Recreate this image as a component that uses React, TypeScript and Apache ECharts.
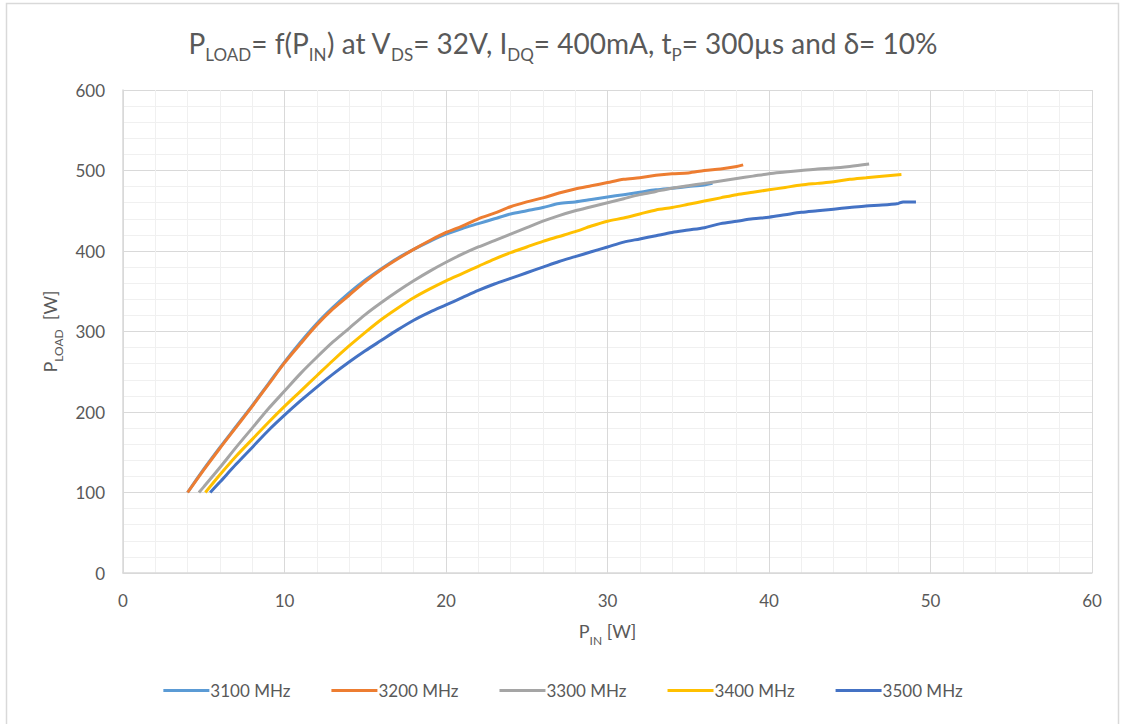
import React, { useEffect, useRef } from "react";
import * as echarts from "echarts";

const seriesNames = ["3100 MHz", "3200 MHz", "3300 MHz", "3400 MHz", "3500 MHz"];
const seriesColors = ["#5B9BD5", "#ED7D31", "#A5A5A5", "#FFC000", "#4472C4"];

const pin3100 = [4.0, 5, 6, 7, 8, 9, 10, 11, 12, 13, 14, 15, 16, 17, 18, 19, 20, 21, 22, 23, 24, 25, 26, 27, 28, 29, 30, 31, 32, 33, 34, 35, 36, 36.5];
const pload3100 = [100, 129, 156, 182, 208, 235, 262, 287, 310, 330, 348, 364, 378, 391, 402, 412, 421, 428, 434, 440, 446, 450, 454, 459, 461, 464, 467, 470, 473, 476, 478, 480, 482, 484];

const pin3200 = [4.0, 5, 6, 7, 8, 9, 10, 11, 12, 13, 14, 15, 16, 17, 18, 19, 20, 21, 22, 23, 24, 25, 26, 27, 28, 29, 30, 31, 32, 33, 34, 35, 36, 37, 38, 38.4];
const pload3200 = [100, 128, 155, 181, 207, 234, 261, 285, 308, 328, 345, 362, 377, 390, 402, 413, 423, 431, 440, 447, 455, 461, 466, 472, 477, 481, 485, 489, 491, 494, 496, 497, 500, 502, 505, 507];

const pin3300 = [4.7, 5, 6, 7, 8, 9, 10, 11, 12, 13, 14, 15, 16, 17, 18, 19, 20, 21, 22, 23, 24, 25, 26, 27, 28, 29, 30, 31, 32, 33, 34, 35, 36, 37, 38, 39, 40, 41, 42, 43, 44, 45, 46.2];
const pload3300 = [100, 107, 131, 156, 180, 204, 226, 248, 268, 287, 304, 321, 336, 350, 363, 375, 386, 396, 405, 413, 421, 429, 437, 444, 450, 455, 460, 465, 470, 474, 478, 481, 484, 487, 490, 493, 496, 498, 500, 502, 503, 505, 508];

const pin3400 = [5.1, 6, 7, 8, 9, 10, 11, 12, 13, 14, 15, 16, 17, 18, 19, 20, 21, 22, 23, 24, 25, 26, 27, 28, 29, 30, 31, 32, 33, 34, 35, 36, 37, 38, 39, 40, 41, 42, 43, 44, 45, 46, 47, 48.2];
const pload3400 = [100, 122, 145, 166, 187, 207, 226, 245, 264, 282, 299, 315, 329, 342, 353, 363, 372, 381, 390, 398, 405, 412, 418, 424, 431, 437, 441, 446, 451, 454, 458, 462, 466, 470, 473, 476, 479, 482, 484, 486, 489, 491, 493, 495];

const pin3500 = [5.4, 6, 7, 8, 9, 10, 11, 12, 13, 14, 15, 16, 17, 18, 19, 20, 21, 22, 23, 24, 25, 26, 27, 28, 29, 30, 31, 32, 33, 34, 35, 36, 37, 38, 39, 40, 41, 42, 43, 44, 45, 46, 47, 48, 48.3, 49.1];
const pload3500 = [100, 113, 135, 156, 177, 196, 214, 231, 247, 262, 276, 289, 302, 314, 324, 333, 342, 351, 359, 366, 373, 380, 387, 393, 399, 405, 411, 415, 419, 423, 426, 429, 434, 437, 440, 442, 445, 448, 450, 452, 454, 456, 457, 459, 461, 461];

const pinSets = [pin3100, pin3200, pin3300, pin3400, pin3500];
const ploadSets = [pload3100, pload3200, pload3300, pload3400, pload3500];

const FONT = "Lato, 'Open Sans', sans-serif";
const TXT = "#595959";

export default function App() {
  const ref = useRef<HTMLDivElement>(null);
  useEffect(() => {
    if (!ref.current) return;
    const chart = echarts.init(ref.current, null, { renderer: "svg" });
    const series = seriesNames.map((name, i) => ({
      name,
      type: "line",
      data: pinSets[i].map((x, j) => [x, ploadSets[i][j]]),
      showSymbol: false,
      smooth: 0.3,
      lineStyle: { width: 3, color: seriesColors[i] },
      itemStyle: { color: seriesColors[i] },
    }));
    const subRich = {
      n: { fontSize: 28, fontWeight: "normal", color: TXT, fontFamily: FONT, lineHeight: 32, verticalAlign: "top" },
      s: { fontSize: 17, fontWeight: "normal", color: TXT, fontFamily: FONT, lineHeight: 17, verticalAlign: "top", padding: [17, 0, 0, 0] },
    };
    const axisRich = {
      n: { fontSize: 18, color: TXT, fontFamily: FONT, lineHeight: 22, verticalAlign: "top" },
      s: { fontSize: 12, color: TXT, fontFamily: FONT, lineHeight: 12, verticalAlign: "top", padding: [12, 0, 0, 0] },
    };
    chart.setOption({
      animation: false,
      backgroundColor: "#ffffff",
      title: {
        text: "{n|P}{s|LOAD}{n|= f(P}{s|IN}{n|) at V}{s|DS}{n|= 32V, I}{s|DQ}{n|= 400mA, t}{s|P}{n|= 300µs and δ= 10%}",
        left: "center",
        top: 24,
        textStyle: { rich: subRich, fontFamily: FONT, fontWeight: "normal" },
      },
      graphic: [
        {
          type: "rect",
          shape: { x: 6.5, y: 3.5, width: 1112, height: 740 },
          style: { fill: "none", stroke: "#d9d9d9", lineWidth: 1.5 },
          silent: true,
        },
      ],
      grid: { left: 123, right: 34, top: 90, bottom: 151, containLabel: false },
      legend: {
        bottom: 20,
        left: "center",
        icon: "rect",
        itemWidth: 46,
        itemHeight: 3,
        itemGap: 41,
        textStyle: { color: TXT, fontSize: 17, fontFamily: FONT, padding: [0, 0, 0, -4] },
        data: seriesNames,
      },
      xAxis: {
        type: "value",
        min: 0,
        max: 60,
        interval: 10,
        name: "{n|P}{s|IN}{n| [W]}",
        nameLocation: "middle",
        nameGap: 49,
        nameTextStyle: { rich: axisRich },
        axisLine: { show: true, lineStyle: { color: "#d9d9d9", width: 1.5 } },
        axisTick: { show: false },
        axisLabel: { color: TXT, fontSize: 17, fontFamily: FONT, margin: 19 },
        splitLine: { show: true, lineStyle: { color: "#d9d9d9", width: 1 } },
        minorTick: { show: false, splitNumber: 5 },
        minorSplitLine: { show: true, lineStyle: { color: "#f0f0f0", width: 1 } },
      },
      yAxis: {
        type: "value",
        min: 0,
        max: 600,
        interval: 100,
        name: "{n|P}{s|LOAD}{n|  [W]}",
        nameLocation: "middle",
        nameGap: 60,
        nameTextStyle: { rich: axisRich },
        axisLine: { show: true, lineStyle: { color: "#d9d9d9", width: 1.5 } },
        axisTick: { show: false },
        axisLabel: { color: TXT, fontSize: 17, fontFamily: FONT, margin: 18 },
        splitLine: { show: true, lineStyle: { color: "#d9d9d9", width: 1 } },
        minorTick: { show: false, splitNumber: 5 },
        minorSplitLine: { show: true, lineStyle: { color: "#f0f0f0", width: 1 } },
      },
      series,
    });
    return () => chart.dispose();
  }, []);
  return (
    <div
      ref={ref}
      style={{ position: "fixed", left: 0, top: 0, width: 1126, height: 724 }}
    />
  );
}
